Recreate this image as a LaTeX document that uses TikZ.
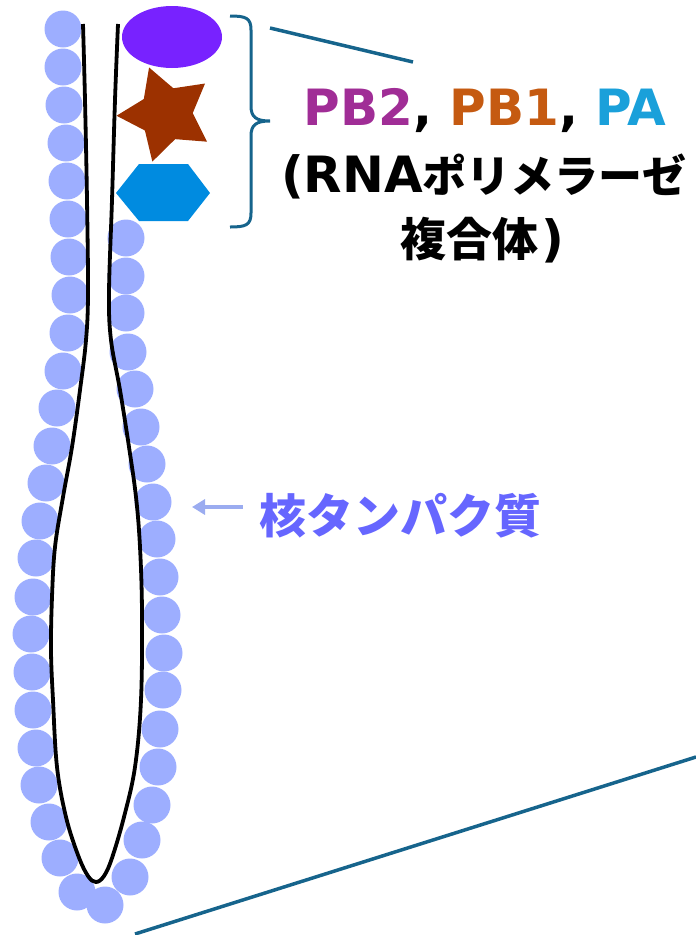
\documentclass[tikz,border=0pt]{standalone}
\usepackage{fontspec}
\newfontfamily\latfont{DejaVu Sans}
\newfontfamily\jpfont{Noto Sans CJK JP}
\usetikzlibrary{arrows.meta,shapes.geometric,shapes.misc}
\definecolor{beadc}{RGB}{157,174,255}
\definecolor{arrowc}{RGB}{155,172,240}
\definecolor{npc}{RGB}{102,102,255}
\definecolor{pbtwoc}{RGB}{160,45,150}
\definecolor{pbonec}{RGB}{197,90,17}
\definecolor{pac}{RGB}{26,160,218}
\definecolor{ovalc}{RGB}{120,34,255}
\definecolor{starc}{RGB}{156,49,0}
\definecolor{hexc}{RGB}{0,139,224}
\definecolor{tealc}{RGB}{22,100,140}
\newcommand\latb[1]{{\latfont\bfseries\fontsize{50}{60}\selectfont #1}}
\newcommand\jpb[2]{{\jpfont\bfseries\fontsize{#1}{#1}\selectfont #2}}
\begin{document}
\begin{tikzpicture}[x=1pt,y=-1pt,
  bead/.style={fill=beadc},
  strand/.style={draw=black,line width=3.8pt},
  zoomline/.style={draw=tealc,line width=3.5pt},
  brace/.style={draw=tealc,line width=3pt},
  lbl/.style={inner sep=0pt,anchor=base}]
\useasboundingbox (0,0) rectangle (696,935);

% nucleoprotein beads along the left side of the segment
\foreach \x/\y in {63/29,63/67,64/105,66/143,67/181,68/219,69/257,70/295,
  68/333,63/371,57/408,52/446,46/483,40/521,36/558,33/597,31/634,32/672,
  33/710,36/748,39/785,49/822,60/858,77/892,105/905}
  \fill[bead] (\x,\y) circle[radius=18.5pt];
% nucleoprotein beads along the right side
\foreach \x/\y in {126/238,126/276,126/313,128/352,135/389,141/427,147/464,
  153/502,157/539,160/577,162/615,164/653,163/690,160/729,158/767,152/805,
  142/840,130/877}
  \fill[bead] (\x,\y) circle[radius=18.5pt];

% RNA strand folded into a hairpin
\draw[strand] plot[smooth,tension=0.6] coordinates {
  (83,24) (85,100) (87,200) (88,293) (86,340) (80,390) (72,447) (63,497)
  (55,547) (52,597) (51,650) (53,700) (57,767) (66,817) (78,855) (88,876)
  (96,882) (104,876) (112,858) (124,817) (135,767) (141,700) (142,613)
  (140,547) (136,497) (129,447) (120,390) (111,340) (109,293) (112,200)
  (115,100) (118,24)};

% polymerase subunits
\node[ellipse,fill=ovalc,inner sep=0pt,minimum width=100pt,minimum height=62pt] (pbtwo) at (172,37) {};
\node[star,star points=5,star point ratio=1.85,fill=starc,inner sep=0pt,minimum size=99pt,rotate=20] (pbone) at (166,114) {};
\fill[hexc] (116,193) -- (139,164) -- (188,164) -- (210,193) -- (188,221) -- (139,221) -- cycle;

% curly bracket around the polymerase
\draw[brace] (230,16) .. controls (246,16) and (251,18) .. (251,30) -- (251,106)
  .. controls (251,117) and (256,121) .. (270,121)
  .. controls (256,121) and (251,125) .. (251,136) -- (251,213)
  .. controls (251,225) and (246,227) .. (230,227);

% zoom lines
\coordinate (zt1) at (270,28);
\coordinate (zt2) at (413,62);
\coordinate (zb1) at (135,934);
\coordinate (zb2) at (696,757);
\draw[zoomline] (zt1) -- (zt2);
\draw[zoomline] (zb1) -- (zb2);

% labels
\node[lbl] (poltitle) at (485,125) {\latb{\textcolor{pbtwoc}{PB2}, \textcolor{pbonec}{PB1}, \textcolor{pac}{PA}}};
\node[lbl] (polname) at (484,192) {\latb{(RNA}\jpb{44}{ポリメラーゼ}};
\node[lbl] (polname2) at (482,256) {\jpb{46}{複合体}\kern3pt\latb{)}};
\node[lbl] (nplabel) at (400,533) {\textcolor{npc}{\jpb{47}{核タンパク質}}};

\coordinate (arrowtip) at (192,507);
\draw[arrowc,line width=3.3pt,-{Triangle[length=13pt,width=15pt]}]
  ([xshift=-16pt]nplabel.west |- arrowtip) -- (arrowtip);
\end{tikzpicture}
\end{document}
